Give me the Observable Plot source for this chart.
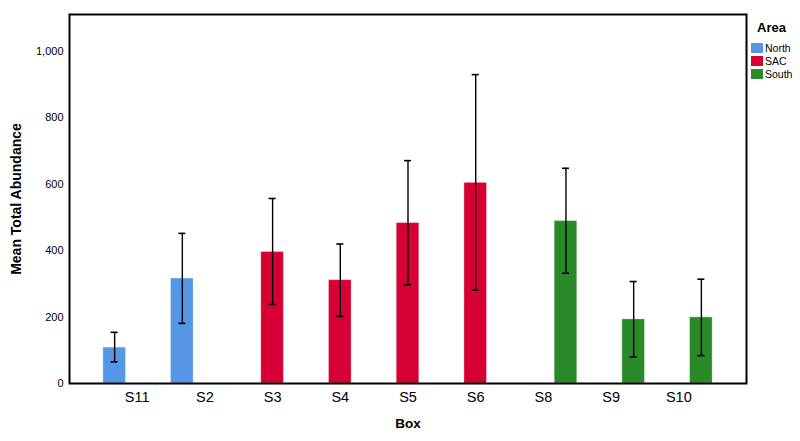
<!DOCTYPE html>
<html><head><meta charset="utf-8">
<script src="https://cdn.jsdelivr.net/npm/d3@7"></script>
<script src="https://cdn.jsdelivr.net/npm/@observablehq/plot@0.6"></script>
<style>
body{margin:0;background:#fff;font-family:"Liberation Sans",Arial,sans-serif;}
#wrap{position:relative;width:800px;height:441px;}
#legend{position:absolute;left:751px;top:20px;font-size:10.5px;color:#000;}
#legend .title{font-weight:bold;font-size:13px;margin:0 0 6px 6px;}
#legend .row{display:flex;align-items:center;height:13px;}
#legend .sw{width:12px;height:10px;margin-right:2px;}
</style>
</head><body>
<div id="wrap"><div id="chart"></div><div id="legend"></div></div>
<script>
const boxes = ["S11","S2","S3","S4","S5","S6","S8","S9","S10"];
const boxArea = ["North","North","SAC","SAC","SAC","SAC","South","South","South"];
const meanAbundance = [108,316,396,311,483,604,489,193,199];
const ciLower = [65,181,238,202,297,281,332,80,84];
const ciUpper = [154,452,557,420,671,930,648,307,314];
const areas = ["North","SAC","South"];
const areaColors = ["#5596E6","#D60034","#2A8A2A"];
const yTicks = [0,200,400,600,800,1000];

const slot = (b, a) => b + "|" + a;
const data = boxes.map((b, i) => ({box: b, area: boxArea[i], key: slot(b, boxArea[i]),
  mean: meanAbundance[i], lo: ciLower[i], hi: ciUpper[i]}));
const slots = boxes.flatMap(b => areas.map(a => slot(b, a)));
const tickSlots = boxes.map(b => slot(b, "SAC"));

const W = 800, H = 441, mL = 69, mR = 54, mT = 14, mB = 58;
const slotW = (W - mL - mR) / (slots.length + 3);
const capInset = (slotW - 7) / 2;

const plot = Plot.plot({
  width: W, height: H,
  marginLeft: mL, marginRight: mR, marginTop: mT, marginBottom: mB,
  style: {fontFamily: '"Liberation Sans", Arial, sans-serif', background: "white", color: "black"},
  x: {domain: slots, paddingInner: 0, paddingOuter: 1.5, round: false, axis: null},
  y: {domain: [0, 1111], axis: null},
  color: {domain: areas, range: areaColors},
  marks: [
    Plot.barY(data, {x: "key", y: "mean", fill: "area", stroke: "white", strokeOpacity: 0.3, strokeWidth: 1}),
    Plot.ruleX(data, {x: "key", y1: "lo", y2: "hi", stroke: "black", strokeWidth: 1.4}),
    Plot.tickY(data, {x: "key", y: "hi", stroke: "black", strokeWidth: 1.6, insetLeft: capInset, insetRight: capInset}),
    Plot.tickY(data, {x: "key", y: "lo", stroke: "black", strokeWidth: 1.6, insetLeft: capInset, insetRight: capInset}),
    Plot.axisY({ticks: yTicks, tickFormat: d3.format(","), tickSize: 0, tickPadding: 6, fontSize: 11, label: null}),
    Plot.axisX({ticks: tickSlots, tickFormat: d => d.split("|")[0], tickSize: 0, tickPadding: 8, fontSize: 14.5, label: null}),
    Plot.text(["Mean Total Abundance"], {frameAnchor: "left", dx: -53, rotate: -90, fontWeight: "bold", fontSize: 14, textAnchor: "middle"}),
    Plot.text(["Box"], {frameAnchor: "bottom", dy: 40, fontWeight: "bold", fontSize: 13.5, lineAnchor: "middle"}),
    Plot.frame({stroke: "black", strokeWidth: 2})
  ]
});
document.getElementById("chart").appendChild(plot);

const cs = plot.scale("color");
const leg = document.getElementById("legend");
leg.innerHTML = '<div class="title">Area</div>' + cs.domain.map((a, i) =>
  `<div class="row"><div class="sw" style="background:${cs.range[i]}"></div><span>${a}</span></div>`).join("");
</script>
</body></html>
